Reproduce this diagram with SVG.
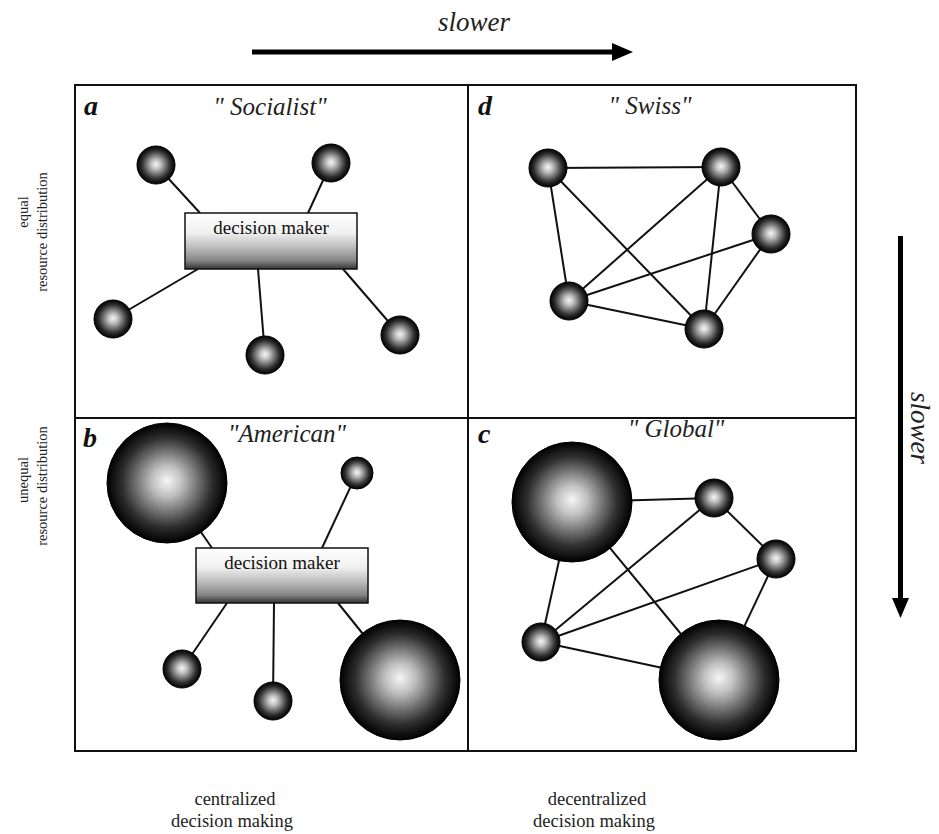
<svg xmlns="http://www.w3.org/2000/svg" width="939" height="834" viewBox="0 0 939 834">
<style>
.frame{fill:none;stroke:#111;stroke-width:2}
.edge{stroke:#111;stroke-width:2;fill:none}
.ball{fill:url(#sphere);stroke:#000;stroke-width:1}
.box{fill:url(#boxg);stroke:#111;stroke-width:1.5}
.dm{font-family:"Liberation Serif","Times New Roman",serif;font-size:19px;fill:#111;text-anchor:middle}
.lbl{font-family:"Liberation Serif","Times New Roman",serif;font-size:28px;font-weight:bold;font-style:italic;fill:#111}
.ttl{font-family:"Liberation Serif","Times New Roman",serif;font-size:25px;font-style:italic;fill:#222;text-anchor:middle}
.axis{font-family:"Liberation Serif","Times New Roman",serif;font-size:14.5px;fill:#222;text-anchor:middle}
.bot{font-family:"Liberation Serif","Times New Roman",serif;font-size:18.5px;fill:#222;text-anchor:middle}
.slow{font-family:"Liberation Serif","Times New Roman",serif;font-size:27px;font-style:italic;fill:#222;text-anchor:middle}
.arr{stroke:#000;stroke-width:5}
</style>
<defs>
<radialGradient id="sphere" cx="0.5" cy="0.5" r="0.5" fx="0.5" fy="0.48">
<stop offset="0" stop-color="#f6f6f6"/>
<stop offset="0.25" stop-color="#c0c0c0"/>
<stop offset="0.5" stop-color="#767676"/>
<stop offset="0.75" stop-color="#2e2e2e"/>
<stop offset="1" stop-color="#000000"/>
</radialGradient>
<linearGradient id="boxg" x1="0" y1="0" x2="0" y2="1">
<stop offset="0" stop-color="#ffffff"/>
<stop offset="0.35" stop-color="#f0f0f0"/>
<stop offset="0.6" stop-color="#c0c0c0"/>
<stop offset="0.85" stop-color="#858585"/>
<stop offset="1" stop-color="#333333"/>
</linearGradient>
</defs>
<rect width="939" height="834" fill="#fff"/>

<g id="frame">
<rect class="frame" x="75" y="85" width="781" height="666"/>
<line class="frame" x1="468" y1="85" x2="468" y2="751"/>
<line class="frame" x1="75" y1="418" x2="856" y2="418"/>
</g>

<g id="axes">
<line class="arr" x1="252" y1="52" x2="614" y2="52"/>
<polygon points="612,43 633,52 612,61" fill="#000"/>
<text class="slow" x="474" y="31">slower</text>
<line class="arr" x1="900.5" y1="236" x2="900.5" y2="600"/>
<polygon points="892,598 909,598 900.5,618" fill="#000"/>
<text class="slow" transform="translate(911,428) rotate(90)">slower</text>
<text class="axis" transform="translate(28,212) rotate(-90)">equal</text>
<text class="axis" transform="translate(47,232) rotate(-90)">resource distribution</text>
<text class="axis" transform="translate(28,480) rotate(-90)">unequal</text>
<text class="axis" transform="translate(47,486) rotate(-90)">resource distribution</text>
<text class="bot" x="235" y="805">centralized</text>
<text class="bot" x="232" y="827">decision making</text>
<text class="bot" x="597" y="805">decentralized</text>
<text class="bot" x="594" y="827">decision making</text>
</g>

<g id="labels">
<text class="lbl" x="84" y="115">a</text>
<text class="ttl" x="270" y="115">" Socialist"</text>
<text class="lbl" x="478" y="115">d</text>
<text class="ttl" x="650" y="114">" Swiss"</text>
<text class="lbl" x="83" y="447">b</text>
<text class="ttl" x="287" y="442">"American"</text>
<text class="lbl" x="478" y="443">c</text>
<text class="ttl" x="676" y="437">" Global"</text>
</g>

<g id="connectors">
<line class="edge" x1="156" y1="165" x2="200" y2="213"/>
<line class="edge" x1="331" y1="163" x2="308" y2="213"/>
<line class="edge" x1="113" y1="319" x2="198" y2="269"/>
<line class="edge" x1="265" y1="355" x2="258" y2="269"/>
<line class="edge" x1="400" y1="335" x2="343" y2="269"/>
<line class="edge" x1="548" y1="168" x2="721" y2="167"/>
<line class="edge" x1="548" y1="168" x2="569" y2="301"/>
<line class="edge" x1="548" y1="168" x2="704" y2="329"/>
<line class="edge" x1="721" y1="167" x2="569" y2="301"/>
<line class="edge" x1="721" y1="167" x2="704" y2="329"/>
<line class="edge" x1="721" y1="167" x2="771" y2="234"/>
<line class="edge" x1="771" y1="234" x2="569" y2="301"/>
<line class="edge" x1="771" y1="234" x2="704" y2="329"/>
<line class="edge" x1="569" y1="301" x2="704" y2="329"/>
<line class="edge" x1="167" y1="483" x2="212" y2="548"/>
<line class="edge" x1="357" y1="473" x2="322" y2="548"/>
<line class="edge" x1="182" y1="669" x2="227" y2="603"/>
<line class="edge" x1="273" y1="701" x2="274" y2="603"/>
<line class="edge" x1="400" y1="680" x2="338" y2="603"/>
<line class="edge" x1="572" y1="502" x2="714" y2="498"/>
<line class="edge" x1="572" y1="502" x2="541" y2="642"/>
<line class="edge" x1="572" y1="502" x2="719" y2="680"/>
<line class="edge" x1="714" y1="498" x2="541" y2="642"/>
<line class="edge" x1="714" y1="498" x2="776" y2="559"/>
<line class="edge" x1="776" y1="559" x2="541" y2="642"/>
<line class="edge" x1="776" y1="559" x2="719" y2="680"/>
<line class="edge" x1="541" y1="642" x2="719" y2="680"/>
</g>

<g id="a-dm"><rect class="box" x="185" y="213" width="172" height="56"/><text class="dm" x="271" y="234">decision maker</text></g>
<g id="a-n1"><circle class="ball" cx="156" cy="165" r="19"/></g>
<g id="a-n2"><circle class="ball" cx="331" cy="163" r="19"/></g>
<g id="a-n3"><circle class="ball" cx="113" cy="319" r="19"/></g>
<g id="a-n4"><circle class="ball" cx="265" cy="355" r="19"/></g>
<g id="a-n5"><circle class="ball" cx="400" cy="335" r="19"/></g>

<g id="d-n1"><circle class="ball" cx="548" cy="168" r="19"/></g>
<g id="d-n2"><circle class="ball" cx="721" cy="167" r="19"/></g>
<g id="d-n3"><circle class="ball" cx="771" cy="234" r="19"/></g>
<g id="d-n4"><circle class="ball" cx="569" cy="301" r="19"/></g>
<g id="d-n5"><circle class="ball" cx="704" cy="329" r="19"/></g>

<g id="b-dm"><rect class="box" x="196" y="548" width="172" height="55"/><text class="dm" x="282" y="569">decision maker</text></g>
<g id="b-n1"><circle class="ball" cx="167" cy="483" r="60"/></g>
<g id="b-n2"><circle class="ball" cx="357" cy="473" r="16"/></g>
<g id="b-n3"><circle class="ball" cx="182" cy="669" r="19"/></g>
<g id="b-n4"><circle class="ball" cx="273" cy="701" r="19"/></g>
<g id="b-n5"><circle class="ball" cx="400" cy="680" r="60"/></g>

<g id="c-n1"><circle class="ball" cx="572" cy="502" r="60"/></g>
<g id="c-n2"><circle class="ball" cx="714" cy="498" r="19"/></g>
<g id="c-n3"><circle class="ball" cx="776" cy="559" r="19"/></g>
<g id="c-n4"><circle class="ball" cx="541" cy="642" r="19"/></g>
<g id="c-n5"><circle class="ball" cx="719" cy="680" r="60"/></g>
</svg>
